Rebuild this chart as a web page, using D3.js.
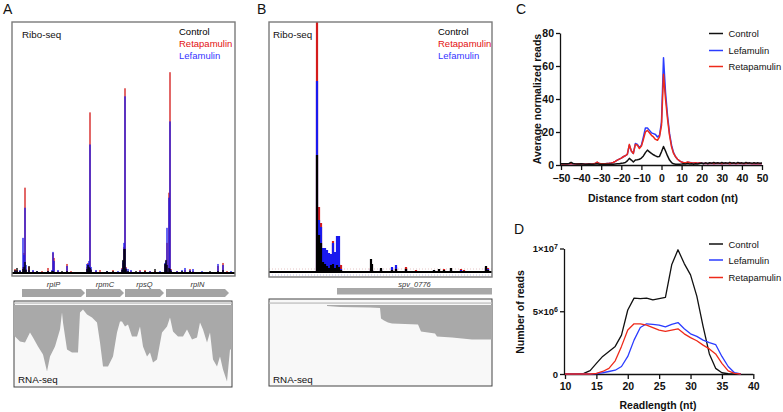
<!DOCTYPE html>
<html><head><meta charset="utf-8">
<script src="https://cdn.jsdelivr.net/npm/d3@7"></script>
<style>body{margin:0;background:#fff}</style>
</head><body><svg id="c" width="783" height="412"></svg>
<script>
// ---------------- DATA ----------------
const riboLegend = ["Control", "Retapamulin", "Lefamulin"];
const seriesLegend = ["Control", "Lefamulin", "Retapamulin"];

// Panel A ribo-seq (relative genomic position, read depth)
const riboA_pos  = [3,5,8,11,12,13,14,17,21,25,30,36,40,41,42,46,50,55,59,75,76,77,78,79,84,88,95,101,106,110,111,112,113,114,116,119,124,128,133,138,143,148,153,154,155,157,158,159,165,170,173,178,181,190,198,206,211,215,219];
const riboA_ctrl = [3,5,2,4,6,11,3,7,1,2,1,2,2,2,1,1,2,2,1,4,8,6,5,3,1,1,2,2,1,3,13,24,24,4,2,1,2,1,2,1,4,1,9,13,8,5,4,2,1,2,1,2,1,1,2,2,3,1,1];
const riboA_reta = [4,3,1,6,20,85,4,6,2,1,2,5,1,20,15,2,1,9,2,6,10,8,160,4,2,3,1,3,1,5,10,26,184,6,1,2,1,3,3,2,2,1,8,10,30,80,200,4,2,1,3,4,2,1,1,7,10,2,1];
const riboA_lefa = [2,2,3,35,18,65,8,3,3,2,1,2,3,21,12,3,1,7,1,9,9,12,128,6,3,1,2,1,2,4,12,30,176,5,4,3,1,2,1,2,1,2,10,12,45,75,151,3,2,3,5,3,4,2,1,9,8,1,2];
const genesA_name  = ["rplP", "rpmC", "rpsQ", "rplN"];
const genesA_start = [10, 74, 113, 154];
const genesA_end   = [73, 112, 152, 217];
const rnaA_pos = [2,3,8,13,18,21,26,31,35,38,43,48,50,51,55,60,66,68,71,75,80,85,88,91,96,101,105,108,110,113,116,120,125,128,131,135,138,141,145,150,155,158,161,166,171,175,180,185,188,191,195,198,201,205,208,211,215,218,220];
const rnaA_cov = [30,31,36,37,27,32,41,49,66,51,41,24,7,17,44,47,47,7,4,9,12,17,37,61,61,51,27,16,16,21,19,31,31,21,41,51,47,57,54,27,21,12,26,31,31,24,34,32,17,24,37,27,54,61,51,64,76,44,44];

// Panel B ribo-seq
const riboB_pos  = [48,50,52,54,56,58,60,62,64,66,68,70,72,102,103,112,123,127,137,147,165,170,175,182,192,195,217,219];
const riboB_ctrl = [117,37,29,10,8,6,4,7,8,4,7,5,2,13,8,4,2,3,3,1,2,3,2,4,1,1,6,2];
const riboB_reta = [300,65,49,20,18,15,12,14,31,10,14,8,7,4,2,2,4,5,5,2,1,2,3,2,3,2,5,4];
const riboB_lefa = [191,52,45,24,24,22,19,18,29,20,36,36,3,3,2,3,5,7,2,1,2,1,1,2,2,1,4,3];
const genesB_name  = ["spv_0776"];
const genesB_start = [68];
const genesB_end   = [223];
const rnaB_pos = [58,71,101,111,112,115,119,123,149,152,166,168,183,203,223];
const rnaB_cov = [0.5,1.5,2,2.5,13,15,17,18,19,26,28,31,32,34,34];

// Panel C metagene
const codonDist = d3.range(-50, 51);
const ctrlC = [0.8,0.8,0.7,0.8,0.9,1.6,0.9,0.7,0.6,0.6,0.7,0.6,0.5,0.5,0.6,0.5,0.5,0.6,0.8,0.5,0.4,0.4,0.4,0.5,0.4,0.5,0.5,0.6,0.7,0.8,1.0,1.2,1.5,2.5,4.0,3.0,1.8,3.0,3.2,3.5,4.2,5.5,7.5,9.0,8.0,7.0,6.2,5.5,5.0,5.2,8.0,11.2,8.5,5.5,3.0,1.5,0.7,0.4,0.4,0.5,0.6,0.8,0.6,0.9,0.6,0.7,0.5,0.8,0.6,0.9,1.2,0.8,1.3,0.9,1.4,1.0,1.5,1.1,1.4,1.0,1.5,1.1,1.3,1.0,1.6,1.1,1.4,1.0,1.5,1.1,1.3,1.0,1.5,1.1,1.3,1.0,1.4,1.1,1.3,1.0,1.2];
const retaC = [0.6,0.6,0.7,0.6,0.7,0.8,0.7,0.6,0.6,0.7,0.6,0.6,0.5,0.6,0.6,0.6,0.7,0.9,1.8,0.9,0.7,0.7,0.8,0.9,1.0,1.2,1.5,2.2,3.0,3.6,4.2,5.0,5.6,6.5,12.5,8.5,7.0,12.5,12.0,10.0,11.5,15.5,20.0,21.0,19.5,18.0,17.0,15.5,15.0,17.0,24.0,55.0,40.0,28.0,18.0,11.0,7.0,5.0,3.5,2.5,1.8,1.4,1.3,1.8,1.5,1.3,1.2,1.3,1.1,1.3,1.0,0.9,1.0,0.8,0.9,1.0,0.8,0.9,1.0,0.9,0.8,0.9,1.0,0.9,0.8,0.9,1.0,0.8,0.9,1.0,0.9,0.8,0.9,1.0,0.9,0.8,0.9,0.8,0.9,0.8,0.9];
const lefaC = [0.6,0.6,0.7,0.6,0.7,0.8,0.7,0.6,0.6,0.7,0.6,0.6,0.5,0.6,0.6,0.6,0.7,0.9,1.6,0.9,0.7,0.7,0.8,0.9,1.0,1.2,1.5,2.2,3.0,3.6,4.2,5.0,5.6,6.5,12.0,8.5,7.0,13.0,12.5,10.5,12.0,17.0,22.5,22.5,21.0,19.5,19.0,18.5,17.0,18.0,26.0,65.0,44.0,30.0,19.0,12.0,7.5,5.0,3.5,2.5,1.8,1.4,1.3,1.7,1.5,1.3,1.2,1.3,1.1,1.3,1.0,0.9,1.0,0.8,0.9,1.0,0.8,0.9,1.0,0.9,0.8,0.9,1.0,0.9,0.8,0.9,1.0,0.8,0.9,1.0,0.9,0.8,0.9,1.0,0.9,0.8,0.9,0.8,0.9,0.8,0.9];
const ticksCx = [-50,-40,-30,-20,-10,0,10,20,30,40,50];
const ticksCy = [0,20,40,60,80];

// Panel D read length distribution
const readLen = d3.range(10, 39);
const ctrlD = [0,0,0,0.05e6,0.27e6,0.85e6,1.4e6,1.8e6,2.2e6,3.1e6,5.1e6,6.05e6,6.0e6,6.05e6,5.9e6,6.0e6,6.1e6,8.7e6,9.9e6,8.8e6,7.9e6,6.2e6,3.8e6,1.6e6,0.45e6,0.1e6,0.02e6,0,0];
const lefaD = [0,0,0,0,0,0.03e6,0.1e6,0.2e6,0.3e6,0.6e6,1.4e6,2.7e6,3.7e6,4.0e6,3.95e6,3.9e6,3.75e6,3.95e6,4.1e6,3.6e6,3.2e6,3.0e6,2.7e6,2.5e6,2.35e6,1.4e6,0.6e6,0.1e6,0];
const retaD = [0,0,0,0,0,0.05e6,0.2e6,0.45e6,1.05e6,2.2e6,3.5e6,4.0e6,4.0e6,3.9e6,3.7e6,3.5e6,3.4e6,3.5e6,3.6e6,3.2e6,2.9e6,2.65e6,2.3e6,2.0e6,1.6e6,0.85e6,0.25e6,0.05e6,0];
const ticksDx = [10,15,20,25,30,35,40];
const ticksDy = [0,5e6,1e7];
const ticksDyMant = ["0","5×10","1×10"];
const ticksDyExp = ["","6","7"];

// ---------------- DRAW ----------------
const FONT = "'Liberation Sans', Arial, Helvetica, sans-serif";
const svg = d3.select("#c").style("font-family", FONT);
svg.append("rect").attr("width",783).attr("height",412).attr("fill","#fff");

const letters = [["A",3,14],["B",257,14],["C",516,14],["D",514,234]];
letters.forEach(([t,x,y]) => svg.append("text").attr("x",x).attr("y",y).attr("font-size",14).attr("fill","#111").text(t));

const RED = "#d41c1c", BLUE = "#1a1aee", BLACK = "#000";
const legendColors = {"Control":"#000","Retapamulin":"#e31010","Lefamulin":"#3535ff"};

function riboPanel(o) {
  const g = svg.append("g");
  const x = d3.scaleLinear().domain([0,223]).range([o.fx, o.fx + o.fw]);
  const y = d3.scaleLinear().domain([0,250]).range([o.base, o.ft]).clamp(true);
  if (o.dotted) {
    g.append("line").attr("x1",o.fx).attr("x2",o.fx+o.fw).attr("y1",o.base-3).attr("y2",o.base-3)
      .attr("stroke","#e0b8b8").attr("stroke-dasharray","1,2").attr("stroke-width",0.8);
    g.append("line").attr("x1",o.fx).attr("x2",o.fx+o.fw).attr("y1",o.base+3).attr("y2",o.base+3)
      .attr("stroke","#b8b8e6").attr("stroke-dasharray","1,2").attr("stroke-width",0.8);
  }
  const series = [[o.reta, RED],[o.lefa, BLUE],[o.ctrl, BLACK]];
  series.forEach(([vals, col]) => {
    g.selectAll(null).data(o.pos.map((p,i)=>({p, v: vals[i]}))).enter().append("rect")
      .attr("x", d => x(d.p) - o.bw/2).attr("width", o.bw)
      .attr("y", d => y(d.v)).attr("height", d => o.base - y(d.v))
      .attr("fill", col).attr("opacity", o.op);
  });
  g.append("line").attr("x1",o.fx).attr("x2",o.fx+o.fw).attr("y1",o.base).attr("y2",o.base)
    .attr("stroke","#000").attr("stroke-width",1.8);
  g.append("rect").attr("x",o.fx).attr("y",o.ft).attr("width",o.fw).attr("height",o.fh)
    .attr("fill","none").attr("stroke","#7a7a7a").attr("stroke-width",1.4);
  g.append("text").attr("x",o.fx+o.lx).attr("y",38).attr("font-size",9.8).attr("fill","#111").text("Ribo-seq");
  riboLegend.forEach((n,i) => g.append("text").attr("x",o.legx).attr("y",35+12*i)
    .attr("font-size",9.5).attr("fill",legendColors[n]).text(n));
  o.gname.forEach((n,i) => {
    const x0 = x(o.gs[i]), x1 = x(o.ge[i]);
    if (o.arrow) {
      g.append("path").attr("d",`M${x0},289L${x1-4},289L${x1},293L${x1-4},297L${x0},297Z`).attr("fill","#a4a4a4");
    } else {
      g.append("rect").attr("x",x0).attr("y",288).attr("width",x1-x0).attr("height",6.5).attr("fill","#a8a8a8");
    }
    g.append("text").attr("x",(x0+x1)/2).attr("y",o.arrow?287:286.5).attr("text-anchor","middle")
      .attr("font-size",7.5).attr("font-style","italic").attr("fill","#333").text(n);
  });
  g.append("rect").attr("x",o.rx).attr("y",o.ry).attr("width",o.rw).attr("height",o.rh)
    .attr("fill","#f8f8f8").attr("stroke","#444").attr("stroke-width",1);
  g.append("rect").attr("x",o.rx+0.5).attr("y",302.2).attr("width",o.rw-1).attr("height",1.8).attr("fill","#cfcfcf");
  const cy = d3.scaleLinear().domain([0,80]).range([305.5,385.5]);
  const area = d3.area().x(d=>x(d.p)).y0(305).y1(d=>cy(d.c));
  g.append("path").datum(o.rpos.map((p,i)=>({p, c:o.rcov[i]}))).attr("d",area).attr("fill","#a9a9a9");
  g.append("text").attr("x",o.rx+4).attr("y",383).attr("font-size",9.8).attr("fill","#111").text("RNA-seq");
}

riboPanel({fx:12, ft:22, fw:223, fh:254, base:273, bw:1.4, op:0.95, lx:10, legx:179, dotted:false,
  pos:riboA_pos, ctrl:riboA_ctrl, reta:riboA_reta, lefa:riboA_lefa,
  gname:genesA_name, gs:genesA_start, ge:genesA_end, arrow:true,
  rx:14, ry:301, rw:218, rh:86, rpos:rnaA_pos, rcov:rnaA_cov});

riboPanel({fx:269, ft:22, fw:223, fh:255, base:272, bw:2.2, op:1, lx:4, legx:438, dotted:true,
  pos:riboB_pos, ctrl:riboB_ctrl, reta:riboB_reta, lefa:riboB_lefa,
  gname:genesB_name, gs:genesB_start, ge:genesB_end, arrow:false,
  rx:269, ry:299, rw:223, rh:87, rpos:rnaB_pos, rcov:rnaB_cov});

// ---------- Panel C ----------
const lineCol = {"Control":"#111","Lefamulin":"#2b3cff","Retapamulin":"#ee2a1a"};
const TICKF = 10.5, TITLEF = 10.5, LEGF = 9.4;
{
  const x = d3.scaleLinear().domain([-50,50]).range([561,762]);
  const y = d3.scaleLinear().domain([0,80]).range([165,33]);
  const g = svg.append("g");
  const xa = g.append("g").attr("transform","translate(0,165)")
    .call(d3.axisBottom(x).tickValues(ticksCx).tickSize(5).tickPadding(5).tickSizeOuter(0));
  const ya = g.append("g").attr("transform","translate(560,0)")
    .call(d3.axisLeft(y).tickValues(ticksCy).tickSize(4).tickPadding(2).tickSizeOuter(0));
  [xa,ya].forEach(a => { a.selectAll("text").attr("font-size",TICKF).attr("font-weight","bold").attr("fill","#111").style("font-family",FONT);
    a.selectAll("line,path").attr("stroke","#111").attr("stroke-width",1.3); });
  xa.select(".domain").attr("d","M560,0.5H762");
  const line = d3.line().x((d,i)=>x(codonDist[i])).y(d=>y(d));
  [[lefaC,"Lefamulin"],[retaC,"Retapamulin"],[ctrlC,"Control"]].forEach(([v,n]) =>
    g.append("path").attr("d",line(v)).attr("fill","none").attr("stroke",lineCol[n]).attr("stroke-width",1.5).attr("stroke-linejoin","round"));
  g.append("text").attr("x",663).attr("y",202).attr("text-anchor","middle").attr("font-size",TITLEF).attr("font-weight","bold").attr("fill","#111")
    .text("Distance from start codon (nt)");
  g.append("text").attr("transform","translate(541,99) rotate(-90)").attr("text-anchor","middle").attr("font-size",TITLEF).attr("font-weight","bold").attr("fill","#111")
    .text("Average normalized reads");
  const ly = [33.5,50.5,66.5];
  seriesLegend.forEach((n,i) => {
    g.append("line").attr("x1",709).attr("x2",723).attr("y1",ly[i]).attr("y2",ly[i]).attr("stroke",lineCol[n]).attr("stroke-width",1.5);
    g.append("text").attr("x",728.5).attr("y",ly[i]+3.5).attr("font-size",LEGF).attr("fill","#111").text(n);
  });
}

// ---------- Panel D ----------
{
  const x = d3.scaleLinear().domain([10,40]).range([565,753.3]);
  const y = d3.scaleLinear().domain([0,1e7]).range([374,248.5]);
  const g = svg.append("g");
  const xa = g.append("g").attr("transform","translate(0,374)")
    .call(d3.axisBottom(x).tickValues(ticksDx).tickSize(5).tickPadding(4).tickSizeOuter(0));
  const ya = g.append("g").attr("transform","translate(564,0)")
    .call(d3.axisLeft(y).tickValues(ticksDy).tickSize(4).tickPadding(2).tickSizeOuter(0));
  [xa,ya].forEach(a => { a.selectAll("text").attr("font-size",TICKF).attr("font-weight","bold").attr("fill","#111").style("font-family",FONT);
    a.selectAll("line,path").attr("stroke","#111").attr("stroke-width",1.3); });
  xa.select(".domain").attr("d","M564,0.5H753.3");
  ya.selectAll(".tick text").each(function(d,i){
    const t = d3.select(this).text(null).attr("font-size",9.5);
    t.append("tspan").text(ticksDyMant[i]);
    if (ticksDyExp[i]) t.append("tspan").attr("dy","-0.45em").attr("font-size",7).text(ticksDyExp[i]);
  });
  const line = d3.line().x((d,i)=>x(readLen[i])).y(d=>y(d));
  [[ctrlD,"Control"],[lefaD,"Lefamulin"],[retaD,"Retapamulin"]].forEach(([v,n]) =>
    g.append("path").attr("d",line(v)).attr("fill","none").attr("stroke",lineCol[n]).attr("stroke-width",1.3).attr("stroke-linejoin","round"));
  g.append("text").attr("x",658).attr("y",409).attr("text-anchor","middle").attr("font-size",TITLEF).attr("font-weight","bold").attr("fill","#111")
    .text("Readlength (nt)");
  g.append("text").attr("transform","translate(524,312) rotate(-90)").attr("text-anchor","middle").attr("font-size",TITLEF).attr("font-weight","bold").attr("fill","#111")
    .text("Number of reads");
  const ly = [244,260,277.5];
  seriesLegend.forEach((n,i) => {
    g.append("line").attr("x1",709).attr("x2",723).attr("y1",ly[i]).attr("y2",ly[i]).attr("stroke",lineCol[n]).attr("stroke-width",1.5);
    g.append("text").attr("x",728.5).attr("y",ly[i]+3.5).attr("font-size",LEGF).attr("fill","#111").text(n);
  });
}
</script></body></html>
